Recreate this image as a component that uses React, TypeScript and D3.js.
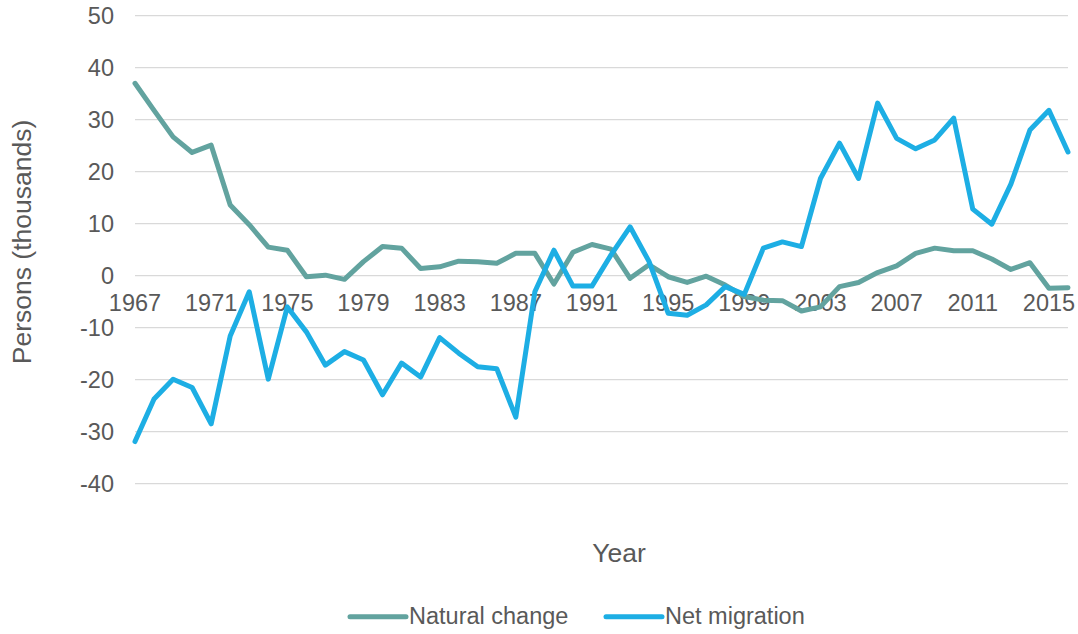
import * as d3 from "d3";

const years = [
  1967, 1968, 1969, 1970, 1971, 1972, 1973, 1974, 1975, 1976,
  1977, 1978, 1979, 1980, 1981, 1982, 1983, 1984, 1985, 1986,
  1987, 1988, 1989, 1990, 1991, 1992, 1993, 1994, 1995, 1996,
  1997, 1998, 1999, 2000, 2001, 2002, 2003, 2004, 2005, 2006,
  2007, 2008, 2009, 2010, 2011, 2012, 2013, 2014, 2015, 2016,
];

const naturalChange = [
  37.0, 31.8, 26.7, 23.7, 25.1, 13.6, 9.8, 5.5, 4.9, -0.2,
  0.1, -0.7, 2.7, 5.6, 5.3, 1.4, 1.7, 2.8, 2.7, 2.4,
  4.3, 4.3, -1.6, 4.5, 6.0, 5.1, -0.5, 2.1, -0.2, -1.3,
  -0.1, -1.8, -4.0, -4.7, -4.8, -6.8, -6.0, -2.1, -1.3, 0.6,
  1.9, 4.3, 5.3, 4.8, 4.8, 3.2, 1.2, 2.5, -2.4, -2.3,
];

const netMigration = [
  -31.9, -23.7, -19.9, -21.5, -28.5, -11.6, -3.1, -19.9, -6.0, -10.8,
  -17.2, -14.6, -16.2, -22.9, -16.8, -19.5, -11.9, -14.9, -17.5, -17.9,
  -27.2, -3.1, 4.9, -2.0, -2.0, 4.0, 9.4, 2.7, -7.2, -7.6,
  -5.6, -2.1, -3.6, 5.3, 6.5, 5.6, 18.7, 25.5, 18.7, 33.2,
  26.4, 24.4, 26.1, 30.3, 12.8, 9.9, 17.6, 28.0, 31.8, 23.8,
];

const xTickYears = [1967, 1971, 1975, 1979, 1983, 1987, 1991, 1995, 1999, 2003, 2007, 2011, 2015];
const yTicks = [-40, -30, -20, -10, 0, 10, 20, 30, 40, 50];

const seriesNames = ["Natural change", "Net migration"];
const seriesColors = ["#62A39F", "#1DAEE4"];

const W = 1078;
const H = 634;
const font = "'Liberation Sans', Arial, sans-serif";
const textColor = "#595959";

export default function App() {
  const x = d3.scaleLinear().domain([1967, 2016]).range([135, 1068]);
  const y = d3.scaleLinear().domain([-40, 50]).range([483.7, 15.7]);

  const line = d3
    .line<number>()
    .x((_, i) => x(years[i]))
    .y((d) => y(d));

  const series = [naturalChange, netMigration];

  return (
    <svg
      width={W}
      height={H}
      style={{ position: "absolute", left: 0, top: 0, background: "#fff" }}
      fontFamily={font}
    >
      {/* gridlines */}
      {yTicks.map((t) => (
        <line
          key={"g" + t}
          x1={x(1967)}
          x2={x(2016)}
          y1={y(t)}
          y2={y(t)}
          stroke="#D9D9D9"
          strokeWidth={1.3}
        />
      ))}

      {/* y tick labels */}
      {yTicks.map((t) => (
        <text
          key={"yt" + t}
          x={114}
          y={y(t)}
          dy="0.35em"
          textAnchor="end"
          fontSize={23.5}
          fill={textColor}
        >
          {t}
        </text>
      ))}

      {/* x tick labels */}
      {xTickYears.map((yr) => (
        <text
          key={"xt" + yr}
          x={x(yr)}
          y={311}
          textAnchor="middle"
          fontSize={23.5}
          fill={textColor}
        >
          {yr}
        </text>
      ))}

      {/* series */}
      {series.map((s, i) => (
        <path
          key={seriesNames[i]}
          d={line(s) ?? ""}
          fill="none"
          stroke={seriesColors[i]}
          strokeWidth={5}
          strokeLinejoin="round"
          strokeLinecap="round"
        />
      ))}

      {/* axis titles */}
      <text
        transform={`translate(31,242) rotate(-90)`}
        textAnchor="middle"
        fontSize={26.5}
        fill={textColor}
      >
        Persons (thousands)
      </text>
      <text x={619} y={562} textAnchor="middle" fontSize={26.5} fill={textColor}>
        Year
      </text>

      {/* legend */}
      {[350, 606].map((lx, i) => (
        <g key={"lg" + i}>
          <line
            x1={lx}
            x2={lx + 56}
            y1={616.7}
            y2={616.7}
            stroke={seriesColors[i]}
            strokeWidth={5}
            strokeLinecap="round"
          />
          <text x={lx + 59} y={624} fontSize={23.5} fill={textColor}>
            {seriesNames[i]}
          </text>
        </g>
      ))}
    </svg>
  );
}
